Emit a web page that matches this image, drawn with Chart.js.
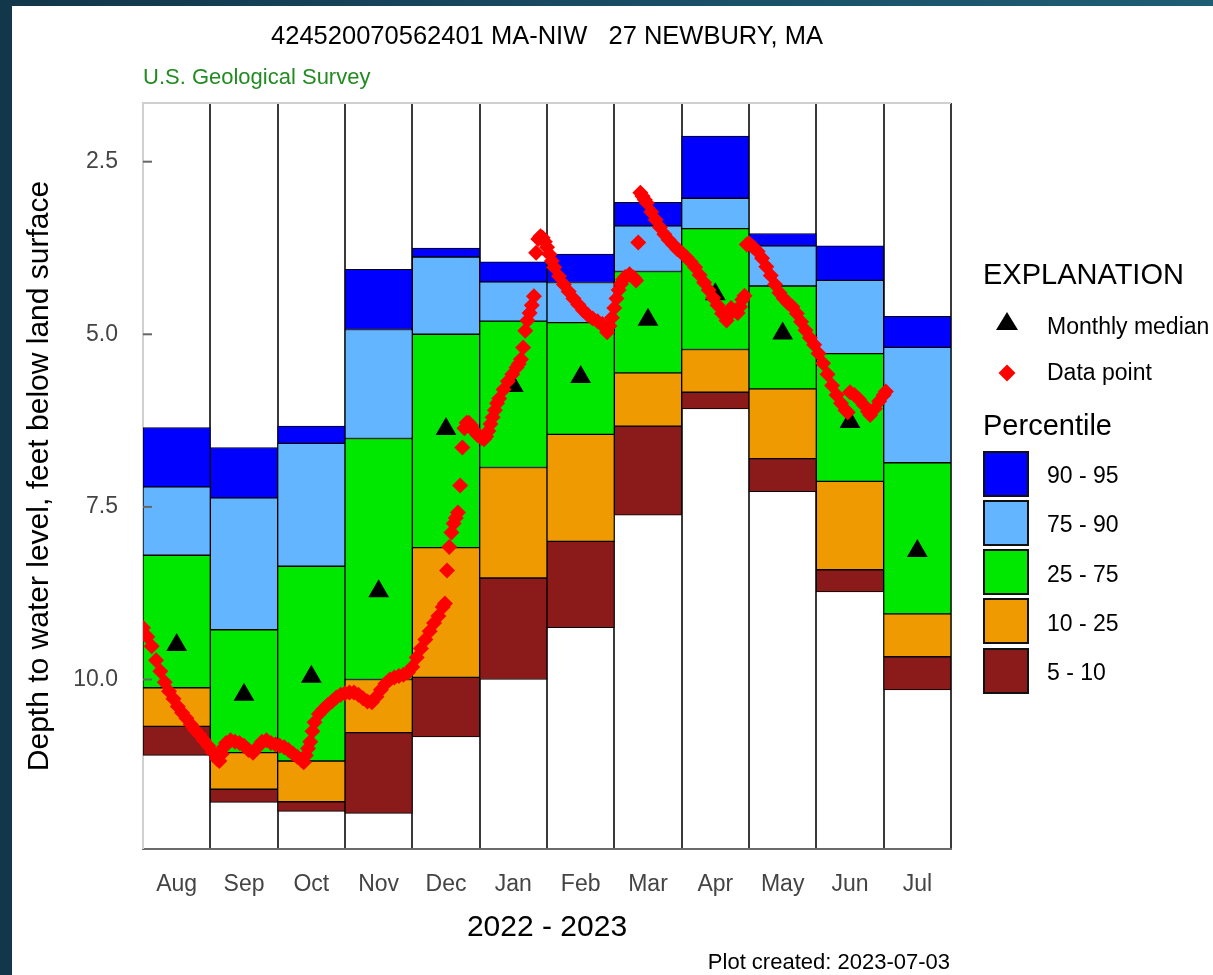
<!DOCTYPE html>
<html>
<head>
<meta charset="utf-8">
<title>424520070562401 MA-NIW 27 NEWBURY, MA</title>
<script src="https://cdn.jsdelivr.net/npm/chart.js@4.4.1/dist/chart.umd.min.js"></script>
<style>
  html, body { margin: 0; padding: 0; }
  body {
    width: 1213px; height: 975px; overflow: hidden; position: relative;
    background: linear-gradient(90deg, #12364a 0%, #1a5068 60%, #1f5d74 100%);
    font-family: "Liberation Sans", Arial, sans-serif;
  }
  #panel { position: absolute; left: 12px; top: 6px; width: 1201px; height: 969px; background: #fff; overflow: hidden; }
  #chart { position: absolute; left: 0; top: 0; }
  .txt { position: absolute; white-space: pre; line-height: 1; color: #000; }
  #title { left: 535px; top: 17px; font-size: 25.5px; transform: translateX(-50%); }
  #agency { left: 131px; top: 60px; font-size: 22px; color: #228b22; }
  #created { right: 263px; top: 945px; font-size: 22px; }
  .head { font-size: 29px; }
  .item { font-size: 23px; }
  #tri { position: absolute; left: 984px; top: 306px; width: 0; height: 0;
         border-left: 11px solid transparent; border-right: 11px solid transparent; border-bottom: 18px solid #000; }
  #dia { position: absolute; left: 989px; top: 361px; width: 12px; height: 12px; background: #ff0000; transform: rotate(45deg); }
  .swatch { position: absolute; left: 971px; width: 46px; height: 46px; box-sizing: border-box; border: 2px solid #111; }
</style>
</head>
<body>
<div id="panel">
  <canvas id="chart" width="1201" height="969"></canvas>
  <div id="title" class="txt">424520070562401 MA-NIW   27 NEWBURY, MA</div>
  <div id="agency" class="txt">U.S. Geological Survey</div>
  <div id="created" class="txt">Plot created: 2023-07-03</div>
  <div id="legend"></div>
</div>
<script>
// months of the water year shown, Aug 2022 - Jul 2023
const months = ['Aug', 'Sep', 'Oct', 'Nov', 'Dec', 'Jan', 'Feb', 'Mar', 'Apr', 'May', 'Jun', 'Jul'];

// monthly percentiles of depth to water (ft below land surface)
const p95 = [6.35, 6.64, 6.33, 4.06, 3.75, 3.95, 3.84, 3.09, 2.13, 3.54, 3.72, 4.74];
const p90 = [7.21, 7.37, 6.58, 4.93, 3.88, 4.24, 4.25, 3.43, 3.03, 3.72, 4.22, 5.19];
const p75 = [8.20, 9.28, 8.36, 6.51, 5.00, 4.81, 4.83, 4.09, 3.47, 4.30, 5.28, 6.86];
const p25 = [10.12, 11.06, 11.18, 10.00, 8.09, 6.93, 6.45, 5.56, 5.22, 5.79, 7.13, 9.05];
const p10 = [10.68, 11.59, 11.77, 10.77, 9.97, 8.53, 8.00, 6.33, 5.84, 6.80, 8.41, 9.67];
const p5 = [11.10, 11.78, 11.91, 11.94, 10.83, 10.00, 9.25, 7.62, 6.08, 7.28, 8.73, 10.15];
const medianDepth = [9.50, 10.22, 9.96, 8.72, 6.37, 5.75, 5.62, 4.79, 4.42, 4.99, 6.27, 8.14];

const yTicks = [2.5, 5.0, 7.5, 10.0];

const bandLabels = ['90 - 95', '75 - 90', '25 - 75', '10 - 25', '5 - 10'];
const bandColors = ['#0000ff', '#63b5ff', '#00e800', '#ee9a00', '#8b1a1a'];

// water level readings: [date, depth ft]
const readings = [
  ['2022-08-01', 9.25], ['2022-08-03', 9.38], ['2022-08-05', 9.52], ['2022-08-07', 9.72], ['2022-08-09', 9.88],
  ['2022-08-11', 10.04], ['2022-08-13', 10.17], ['2022-08-15', 10.28], ['2022-08-17', 10.39], ['2022-08-19', 10.48],
  ['2022-08-21', 10.56], ['2022-08-23', 10.65], ['2022-08-25', 10.73], ['2022-08-27', 10.80], ['2022-08-29', 10.88],
  ['2022-08-31', 10.96],
  ['2022-09-02', 11.05], ['2022-09-04', 11.15], ['2022-09-05', 11.18], ['2022-09-06', 11.08], ['2022-09-07', 10.98],
  ['2022-09-08', 10.92], ['2022-09-10', 10.88], ['2022-09-12', 10.90], ['2022-09-14', 10.92], ['2022-09-16', 10.96],
  ['2022-09-18', 11.02], ['2022-09-20', 11.06], ['2022-09-22', 10.98], ['2022-09-24', 10.90], ['2022-09-26', 10.88],
  ['2022-09-28', 10.92], ['2022-09-30', 10.94],
  ['2022-10-02', 10.96], ['2022-10-04', 10.98], ['2022-10-06', 11.02], ['2022-10-08', 11.07], ['2022-10-10', 11.12],
  ['2022-10-12', 11.17], ['2022-10-13', 11.20], ['2022-10-14', 11.10], ['2022-10-15', 11.00], ['2022-10-16', 10.90],
  ['2022-10-17', 10.75], ['2022-10-18', 10.62], ['2022-10-20', 10.50], ['2022-10-22', 10.43], ['2022-10-24', 10.37],
  ['2022-10-26', 10.32], ['2022-10-28', 10.26], ['2022-10-30', 10.22],
  ['2022-11-01', 10.20], ['2022-11-03', 10.19], ['2022-11-05', 10.19], ['2022-11-07', 10.22], ['2022-11-09', 10.27],
  ['2022-11-11', 10.32], ['2022-11-13', 10.33], ['2022-11-15', 10.25], ['2022-11-17', 10.15], ['2022-11-19', 10.06],
  ['2022-11-21', 10.00], ['2022-11-23', 9.97], ['2022-11-25', 9.95], ['2022-11-27', 9.93], ['2022-11-29', 9.90],
  ['2022-12-01', 9.82], ['2022-12-03', 9.68], ['2022-12-05', 9.55], ['2022-12-07', 9.42], ['2022-12-09', 9.30],
  ['2022-12-11', 9.18], ['2022-12-13', 9.08], ['2022-12-15', 8.95], ['2022-12-16', 8.90], ['2022-12-17', 8.42],
  ['2022-12-18', 8.08], ['2022-12-19', 7.87], ['2022-12-20', 7.74], ['2022-12-21', 7.66], ['2022-12-22', 7.58],
  ['2022-12-23', 7.19], ['2022-12-24', 6.64], ['2022-12-25', 6.36], ['2022-12-26', 6.28], ['2022-12-27', 6.28],
  ['2022-12-28', 6.32], ['2022-12-29', 6.38], ['2022-12-30', 6.42], ['2022-12-31', 6.46],
  ['2023-01-01', 6.48], ['2023-01-02', 6.50], ['2023-01-03', 6.52], ['2023-01-04', 6.48], ['2023-01-05', 6.40],
  ['2023-01-06', 6.30], ['2023-01-07', 6.20], ['2023-01-08', 6.10], ['2023-01-09', 6.00], ['2023-01-10', 5.93],
  ['2023-01-12', 5.80], ['2023-01-14', 5.68], ['2023-01-16', 5.58], ['2023-01-18', 5.48], ['2023-01-19', 5.43],
  ['2023-01-20', 5.36], ['2023-01-21', 5.19], ['2023-01-22', 4.95], ['2023-01-23', 4.80], ['2023-01-24', 4.69],
  ['2023-01-25', 4.58], ['2023-01-26', 4.45], ['2023-01-27', 3.82], ['2023-01-28', 3.62], ['2023-01-29', 3.58],
  ['2023-01-30', 3.60], ['2023-01-31', 3.66],
  ['2023-02-01', 3.74], ['2023-02-02', 3.84], ['2023-02-03', 3.94], ['2023-02-04', 4.03], ['2023-02-06', 4.16],
  ['2023-02-08', 4.28], ['2023-02-10', 4.38], ['2023-02-12', 4.48], ['2023-02-14', 4.57], ['2023-02-16', 4.65],
  ['2023-02-18', 4.72], ['2023-02-20', 4.77], ['2023-02-22', 4.81], ['2023-02-24', 4.85], ['2023-02-25', 4.90],
  ['2023-02-26', 4.97], ['2023-02-27', 4.88], ['2023-02-28', 4.76],
  ['2023-03-01', 4.62], ['2023-03-02', 4.48], ['2023-03-03', 4.36], ['2023-03-04', 4.27], ['2023-03-05', 4.21],
  ['2023-03-06', 4.17], ['2023-03-08', 4.13], ['2023-03-10', 4.18], ['2023-03-11', 4.22], ['2023-03-12', 3.67],
  ['2023-03-13', 2.95], ['2023-03-14', 3.00], ['2023-03-15', 3.05], ['2023-03-16', 3.10], ['2023-03-18', 3.23],
  ['2023-03-20', 3.34], ['2023-03-22', 3.45], ['2023-03-24', 3.55], ['2023-03-26', 3.63], ['2023-03-28', 3.70],
  ['2023-03-30', 3.77],
  ['2023-04-01', 3.82], ['2023-04-03', 3.88], ['2023-04-05', 3.95], ['2023-04-07', 4.03], ['2023-04-09', 4.14],
  ['2023-04-11', 4.25], ['2023-04-13', 4.36], ['2023-04-15', 4.47], ['2023-04-17', 4.58], ['2023-04-19', 4.70],
  ['2023-04-21', 4.80], ['2023-04-22', 4.72], ['2023-04-23', 4.62], ['2023-04-25', 4.66], ['2023-04-26', 4.69],
  ['2023-04-27', 4.60], ['2023-04-28', 4.50], ['2023-04-29', 4.44], ['2023-04-30', 3.70],
  ['2023-05-01', 3.68], ['2023-05-03', 3.74], ['2023-05-05', 3.80], ['2023-05-07', 3.90], ['2023-05-09', 4.02],
  ['2023-05-11', 4.15], ['2023-05-13', 4.28], ['2023-05-15', 4.40], ['2023-05-17', 4.48], ['2023-05-19', 4.55],
  ['2023-05-21', 4.60], ['2023-05-23', 4.70], ['2023-05-25', 4.82], ['2023-05-27', 4.94], ['2023-05-29', 5.05],
  ['2023-05-31', 5.15],
  ['2023-06-02', 5.28], ['2023-06-04', 5.42], ['2023-06-06', 5.58], ['2023-06-08', 5.74], ['2023-06-10', 5.88],
  ['2023-06-12', 6.00], ['2023-06-14', 6.10], ['2023-06-15', 6.13], ['2023-06-16', 5.84], ['2023-06-18', 5.88],
  ['2023-06-20', 5.94], ['2023-06-22', 6.02], ['2023-06-24', 6.12], ['2023-06-25', 6.17], ['2023-06-27', 6.08],
  ['2023-06-29', 5.97],
  ['2023-07-01', 5.88], ['2023-07-02', 5.83]
];

Chart.defaults.font.family = '"Liberation Sans", Arial, sans-serif';

// position of a date on the month axis: month index + fraction of the month
function monthPosition(dateStr) {
  const [y, m, d] = dateStr.split('-').map(Number);
  const idx = (m - 8 + 12) % 12;
  const len = new Date(y, m, 0).getDate();
  return idx + (d - 1) / len;
}

// percentile bands, top of each band to bottom
const bounds = [p95, p90, p75, p25, p10, p5];
const bandSets = bandLabels.map((label, i) => ({
  type: 'bar',
  label: label,
  data: months.map((m, j) => [bounds[i][j], bounds[i + 1][j]]),
  backgroundColor: bandColors[i],
  borderColor: '#000',
  borderWidth: 1,
  borderSkipped: false,
  barPercentage: 1,
  categoryPercentage: 1,
  grouped: false,
  xAxisID: 'x',
  yAxisID: 'y'
}));

// light frame on the top/left and inner tick marks on the depth axis
const plotFrame = {
  id: 'plotFrame',
  beforeDatasetsDraw(chart) {
    const { ctx, chartArea: a } = chart;
    ctx.save();
    ctx.strokeStyle = '#d0d0d0';
    ctx.lineWidth = 2;
    ctx.beginPath();
    ctx.moveTo(a.left, a.bottom);
    ctx.lineTo(a.left, a.top);
    ctx.lineTo(a.right, a.top);
    ctx.stroke();
    ctx.restore();
  },
  afterDatasetsDraw(chart) {
    const { ctx, chartArea: a } = chart;
    const y = chart.scales.y;
    ctx.save();
    ctx.strokeStyle = '#666';
    ctx.lineWidth = 2;
    y.ticks.forEach(t => {
      const py = y.getPixelForValue(t.value);
      ctx.beginPath();
      ctx.moveTo(a.left, py);
      ctx.lineTo(a.left + 9, py);
      ctx.stroke();
    });
    ctx.restore();
  }
};

const chart = new Chart(document.getElementById('chart'), {
  type: 'bar',
  data: {
    labels: months,
    datasets: [
      {
        type: 'scatter',
        label: 'Data point',
        data: readings.map(([d, v]) => ({ x: monthPosition(d), y: v })),
        xAxisID: 'xt',
        yAxisID: 'y',
        pointStyle: 'rectRot',
        pointRadius: 8,
        backgroundColor: '#ff0000',
        borderColor: '#ff0000',
        borderWidth: 0
      },
      {
        type: 'line',
        label: 'Monthly median',
        data: medianDepth,
        showLine: false,
        xAxisID: 'x',
        yAxisID: 'y',
        pointStyle: 'triangle',
        pointRadius: 12,
        backgroundColor: '#000',
        borderColor: '#000',
        borderWidth: 0
      },
      ...bandSets
    ]
  },
  options: {
    responsive: false,
    animation: false,
    devicePixelRatio: 1,
    layout: { padding: { top: 97, right: 262, bottom: 0, left: 0 } },
    plugins: {
      legend: { display: false },
      tooltip: { enabled: false }
    },
    scales: {
      x: {
        type: 'category',
        position: 'bottom',
        offset: true,
        grid: {
          offset: true,
          drawTicks: false,
          lineWidth: 2,
          color: ctx => ctx.index === 0 ? '#d0d0d0' : '#3a3a3a'
        },
        border: { color: '#6a6a6a', width: 2 },
        ticks: { color: '#444', font: { size: 23 }, padding: 22, maxRotation: 0, autoSkip: false },
        title: { display: true, text: '2022 - 2023', color: '#000', font: { size: 30 }, padding: { top: 0, bottom: 29 } },
        afterFit: s => { s.height = 126; }
      },
      // continuous month axis for the daily readings
      xt: { type: 'linear', axis: 'x', display: false, offset: false, min: 0, max: 12 },
      y: {
        reverse: true,
        min: 1.65,
        max: 12.455,
        grid: { display: false, drawTicks: false },
        border: { display: false },
        afterBuildTicks: s => { s.ticks = yTicks.map(value => ({ value })); },
        ticks: { color: '#444', font: { size: 23 }, padding: 25, callback: v => v.toFixed(1) },
        title: {
          display: true,
          text: 'Depth to water level, feet below land surface',
          color: '#000',
          font: { size: 30 },
          padding: { top: 10, bottom: 0 }
        },
        afterFit: s => { s.width = 131; }
      }
    }
  },
  plugins: [plotFrame]
});

// explanation block on the right
const legend = document.getElementById('legend');
legend.innerHTML =
  '<div class="txt head" style="left:971px;top:254px">EXPLANATION</div>' +
  '<div id="tri"></div>' +
  '<div class="txt item" style="left:1035px;top:309px">Monthly median</div>' +
  '<div id="dia"></div>' +
  '<div class="txt item" style="left:1035px;top:355px">Data point</div>' +
  '<div class="txt head" style="left:971px;top:405px">Percentile</div>';
bandLabels.forEach((label, i) => {
  const top = 444.5 + i * 49.25;
  const box = document.createElement('div');
  box.className = 'swatch';
  box.style.top = top + 'px';
  box.style.background = bandColors[i];
  legend.appendChild(box);
  const txt = document.createElement('div');
  txt.className = 'txt item';
  txt.style.left = '1035px';
  txt.style.top = (top + 23 + 2 - 11.5) + 'px';
  txt.textContent = label;
  legend.appendChild(txt);
});
</script>
</body>
</html>
